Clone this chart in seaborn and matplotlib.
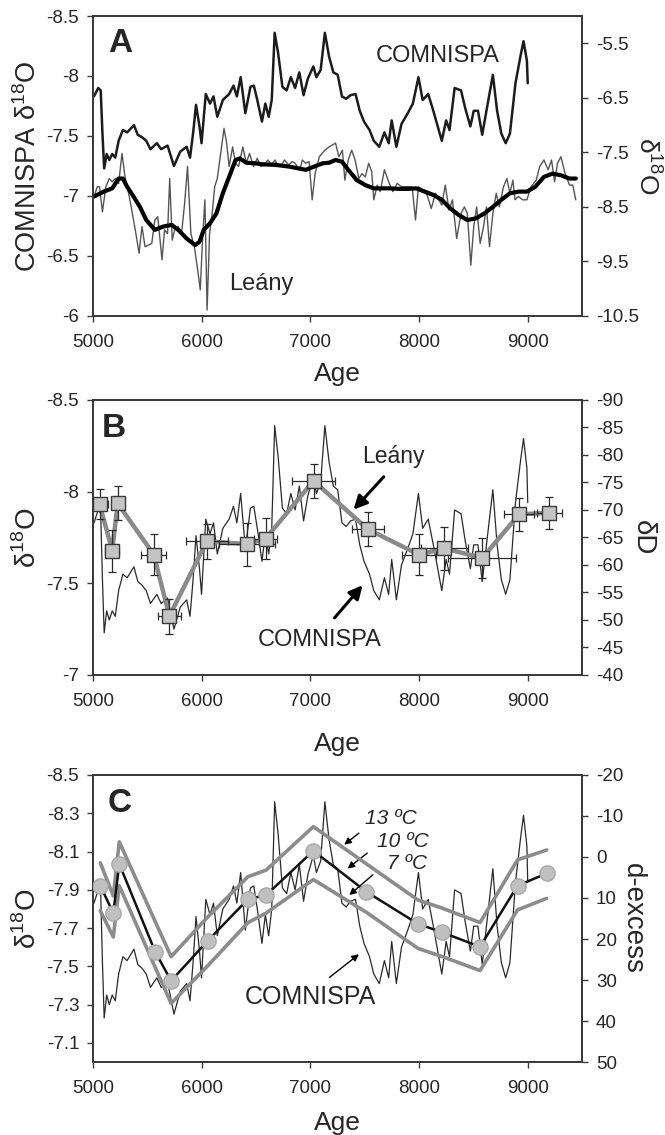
import numpy as np
import pandas as pd
import matplotlib
matplotlib.use("Agg")
import matplotlib.pyplot as plt
from matplotlib.ticker import FuncFormatter
import seaborn as sns

# COMNISPA d18O stack (left axis, all three panels)
comnispa_age = [5008, 5047, 5070, 5086, 5102, 5125, 5149, 5176, 5204, 5235, 5274, 5313, 5376, 5411, 5450,
                5489, 5528, 5587, 5626, 5685, 5744, 5802, 5861, 5892, 5920, 5947, 5979, 5998, 6037, 6076,
                6108, 6143, 6194, 6252, 6292, 6323, 6358, 6401, 6448, 6479, 6511, 6554, 6585, 6616, 6644,
                6671, 6703, 6742, 6781, 6820, 6859, 6898, 6937, 6977, 7027, 7055, 7094, 7133, 7172, 7211,
                7251, 7290, 7329, 7368, 7415, 7454, 7493, 7544, 7583, 7634, 7681, 7720, 7748, 7791, 7838,
                7896, 7943, 7994, 8033, 8084, 8131, 8209, 8249, 8280, 8327, 8386, 8425, 8472, 8503, 8542,
                8581, 8620, 8679, 8718, 8757, 8797, 8836, 8887, 8934, 8961, 8992, 9000]
comnispa_d18o = [-7.83, -7.90, -7.88, -7.52, -7.23, -7.35, -7.30, -7.35, -7.32, -7.46, -7.55, -7.53, -7.59, -7.51, -7.49,
                 -7.46, -7.39, -7.44, -7.39, -7.42, -7.25, -7.37, -7.41, -7.32, -7.52, -7.76, -7.58, -7.44, -7.85, -7.77,
                 -7.83, -7.66, -7.80, -7.85, -7.92, -7.83, -7.99, -7.69, -7.91, -7.92, -7.80, -7.62, -7.77, -7.66, -7.80,
                 -8.36, -8.19, -7.91, -7.88, -7.99, -7.90, -8.03, -7.84, -7.98, -8.08, -7.99, -8.05, -8.36, -8.16, -8.03,
                 -8.01, -7.83, -7.81, -7.84, -7.85, -7.71, -7.62, -7.55, -7.46, -7.41, -7.53, -7.44, -7.63, -7.41, -7.60,
                 -7.69, -7.77, -7.99, -7.80, -7.85, -7.71, -7.46, -7.63, -7.55, -7.90, -7.88, -7.73, -7.58, -7.71, -7.71,
                 -7.51, -7.71, -8.01, -7.71, -7.52, -7.44, -7.52, -7.94, -8.17, -8.29, -8.13, -7.94]

# Leany d18O, raw and smoothed (right axis, panel A)
leany_age = [5008, 5039, 5059, 5086, 5117, 5149, 5176, 5204, 5235, 5266, 5294, 5333, 5372, 5399, 5423,
             5450, 5478, 5509, 5540, 5568, 5595, 5634, 5658, 5685, 5705, 5728, 5751, 5783, 5814, 5842,
             5869, 5900, 5932, 5963, 5986, 6010, 6029, 6049, 6072, 6096, 6119, 6143, 6174, 6205, 6229,
             6252, 6284, 6311, 6339, 6378, 6409, 6440, 6476, 6511, 6542, 6573, 6609, 6644, 6675, 6703,
             6734, 6761, 6800, 6832, 6859, 6879, 6902, 6926, 6957, 6988, 7016, 7043, 7082, 7133, 7172,
             7231, 7262, 7294, 7317, 7348, 7380, 7411, 7446, 7474, 7505, 7536, 7564, 7583, 7615, 7642,
             7681, 7720, 7759, 7798, 7838, 7896, 7936, 7967, 7994, 8033, 8073, 8112, 8151, 8209, 8241,
             8276, 8307, 8346, 8386, 8417, 8444, 8476, 8503, 8530, 8562, 8593, 8620, 8648, 8679, 8710,
             8738, 8777, 8808, 8836, 8863, 8883, 8914, 8953, 8992, 9031, 9078, 9110, 9149, 9188, 9219,
             9247, 9274, 9305, 9344, 9384, 9415, 9442]
leany_d18o = [-8.31, -8.13, -8.13, -8.59, -8.13, -7.98, -8.04, -7.98, -8.07, -7.52, -7.95, -8.31, -8.74, -9.05, -9.35,
              -8.86, -9.23, -9.20, -9.17, -8.74, -8.68, -9.47, -8.92, -8.99, -7.98, -9.11, -8.92, -8.86, -8.99, -8.44,
              -7.76, -8.99, -9.23, -9.66, -10.02, -8.99, -8.37, -10.39, -8.99, -8.62, -8.13, -7.98, -7.52, -7.06, -7.33,
              -7.76, -7.40, -7.70, -7.76, -7.40, -7.70, -7.52, -7.76, -7.61, -7.76, -7.73, -7.64, -7.73, -7.64, -7.76,
              -7.73, -7.64, -7.73, -7.67, -7.70, -7.76, -7.82, -7.64, -7.70, -7.67, -8.37, -7.89, -7.58, -7.46, -7.40,
              -7.33, -7.58, -7.46, -8.01, -7.64, -7.46, -7.64, -7.98, -7.89, -7.95, -7.70, -7.85, -8.37, -8.10, -8.22,
              -7.82, -8.04, -8.22, -8.07, -8.13, -8.13, -8.13, -8.74, -8.13, -8.19, -8.28, -8.53, -8.25, -8.47, -8.10,
              -8.56, -8.37, -9.08, -8.62, -8.50, -8.62, -9.57, -8.86, -8.50, -9.17, -8.86, -8.50, -9.23, -8.62, -8.25,
              -8.50, -8.13, -7.98, -8.25, -8.01, -8.37, -8.31, -8.37, -8.37, -8.13, -8.01, -7.76, -7.64, -7.82, -7.64,
              -8.04, -7.70, -7.58, -7.89, -8.10, -8.10, -8.37]
leany_smooth_age = [5008, 5098, 5176, 5235, 5274, 5313, 5372, 5431, 5489, 5568, 5646, 5724, 5783, 5861, 5939,
                    5979, 6018, 6076, 6135, 6194, 6252, 6311, 6350, 6409, 6487, 6566, 6683, 6800, 6879, 6957,
                    7035, 7114, 7172, 7231, 7290, 7348, 7427, 7505, 7583, 7662, 7740, 7818, 7896, 7974, 8053,
                    8131, 8209, 8288, 8366, 8444, 8523, 8601, 8679, 8757, 8836, 8914, 8992, 9070, 9149, 9227,
                    9305, 9384, 9442]
leany_smooth_d18o = [-8.31, -8.22, -8.16, -7.98, -7.98, -8.13, -8.31, -8.50, -8.74, -8.92, -8.86, -8.83, -8.92, -9.08, -9.20,
                     -9.14, -8.92, -8.80, -8.62, -8.25, -7.95, -7.64, -7.61, -7.69, -7.70, -7.72, -7.73, -7.76, -7.79, -7.82,
                     -7.76, -7.70, -7.69, -7.64, -7.67, -7.82, -8.01, -8.10, -8.16, -8.16, -8.16, -8.17, -8.17, -8.16, -8.22,
                     -8.28, -8.37, -8.53, -8.65, -8.74, -8.71, -8.62, -8.50, -8.37, -8.25, -8.22, -8.22, -8.13, -7.95, -7.89,
                     -7.92, -7.98, -7.98]

# panel B: Leany dD with age / value errors
dd_age = [5059, 5176, 5226, 5558, 5702, 6046, 6416, 6588, 7029, 7528, 7997, 8231, 8582, 8921, 9199]
dd_val = [-71.1, -62.6, -71.2, -61.9, -50.7, -64.3, -63.8, -64.8, -75.3, -66.5, -61.9, -63.0, -61.3, -69.2, -69.5]
dd_age_err = [78, 66, 0, 113, 107, 195, 260, 105, 195, 146, 156, 215, 312, 137, 117]
dd_val_err = [2.8, 3.8, 3.1, 3.8, 3.2, 3.2, 3.9, 3.8, 3.1, 3.1, 3.8, 3.9, 3.6, 3.0, 2.9]

# panel C: modelled d-excess for 10, 13 and 7 C
dex_age = [5066, 5186, 5241, 5571, 5718, 6056, 6425, 6592, 7027, 7516, 7990, 8215, 8561, 8906, 9174]
dex_10 = [7.0, 13.7, 1.7, 23.1, 30.2, 20.4, 10.3, 9.3, -1.5, 8.5, 16.3, 18.4, 21.9, 7.0, 4.0]
dex_13 = [1.4, 9.5, -3.7, 15.7, 24.3, 14.6, 4.8, 3.2, -7.4, 1.7, 10.5, 12.5, 16.0, 0.7, -1.7]
dex_7 = [13.1, 19.5, 7.0, 26.9, 35.7, 26.5, 16.0, 13.7, 5.5, 13.5, 22.3, 24.3, 27.7, 12.9, 10.1]

sns.set_style("ticks")
plt.rcParams['font.family'] = ['Liberation Sans', 'DejaVu Sans']
plt.rcParams['mathtext.fontset'] = 'custom'
plt.rcParams['mathtext.rm'] = 'Liberation Sans'
plt.rcParams['axes.unicode_minus'] = False

fmt = FuncFormatter(lambda v, p: f"{v:g}")
D18O = "δ$^{\\mathregular{18}}$O"


def style_axes(ax, ax2):
    for a in (ax, ax2):
        for s in a.spines.values():
            s.set_linewidth(1.3)
            s.set_color("#3a3a3a")
        a.tick_params(axis="both", length=4, width=1, labelsize=13.5, color="#3a3a3a", pad=6)
        a.yaxis.set_major_formatter(fmt)
    ax.tick_params(axis="x", pad=9)
    ax.set_xlim(5000, 9500)
    ax.set_xticks([5000, 6000, 7000, 8000, 9000])
    ax.set_xlabel("Age", fontsize=19)


fig = plt.figure(figsize=(6.65, 11.35), dpi=100)
axA = fig.add_axes([0.140, 0.7216, 0.7353, 0.2643])
axB = fig.add_axes([0.140, 0.4053, 0.7353, 0.2423])
axC = fig.add_axes([0.140, 0.0643, 0.7353, 0.2529])
axA2 = axA.twinx()
axB2 = axB.twinx()
axC2 = axC.twinx()

# ---- panel A
sns.lineplot(x=comnispa_age, y=comnispa_d18o, ax=axA, color="#1c1c1c", linewidth=1.8,
             sort=False, estimator=None)
sns.lineplot(x=leany_age, y=leany_d18o, ax=axA2, color="#555555", linewidth=1.0,
             sort=False, estimator=None)
sns.lineplot(x=leany_smooth_age, y=leany_smooth_d18o, ax=axA2, color="black", linewidth=3.0,
             sort=False, estimator=None)
style_axes(axA, axA2)
axA.set_ylim(-6, -8.5)
axA.set_yticks(np.arange(-8.5, -5.99, 0.5))
axA2.set_ylim(-10.5, -5.0)
axA2.set_yticks(np.arange(-10.5, -5.4, 1.0))
axA.set_ylabel("COMNISPA " + D18O, fontsize=19.5)
axA2.set_ylabel(D18O, fontsize=19, rotation=270, va="bottom")
axA.text(0.055, 0.909, "A", transform=axA.transAxes, fontsize=24, fontweight="bold", ha="center", va="center")
axA.text(8170, -8.17, "COMNISPA", fontsize=17, ha="center", va="center")
axA.text(6546, -6.27, "Leány", fontsize=17, ha="center", va="center")

# ---- panel B
sns.lineplot(x=comnispa_age, y=comnispa_d18o, ax=axB, color="#2a2a2a", linewidth=0.9,
             sort=False, estimator=None)
axB2.errorbar(dd_age, dd_val, xerr=dd_age_err, yerr=dd_val_err, fmt="none", ecolor="#2a2a2a",
              elinewidth=0.9, capsize=3, capthick=0.9, zorder=3)
sns.lineplot(x=dd_age, y=dd_val, ax=axB2, color="#8a8a8a", linewidth=3.2, sort=False,
             estimator=None, zorder=2)
sns.scatterplot(x=dd_age, y=dd_val, ax=axB2, marker="s", s=110, color="#c4c4c4",
                edgecolor="#3a3a3a", linewidth=1.0, zorder=4)
style_axes(axB, axB2)
axB.set_ylim(-7, -8.5)
axB.set_yticks([-8.5, -8, -7.5, -7])
axB2.set_ylim(-40, -90)
axB2.set_yticks(np.arange(-90, -39, 5))
axB.set_ylabel(D18O, fontsize=20)
axB2.set_ylabel("δD", fontsize=20, rotation=270, va="bottom")
axB.text(0.043, 0.897, "B", transform=axB.transAxes, fontsize=24, fontweight="bold", ha="center", va="center")
axB2.text(7759, -79.7, "Leány", fontsize=16.5, ha="center", va="center")
axB2.annotate("", xy=(7380, -69.7), xytext=(7692, -76.4),
              arrowprops=dict(arrowstyle="-|>", color="black", lw=2.2, mutation_scale=20))
axB2.text(7088, -46.4, "COMNISPA", fontsize=17, ha="center", va="center")
axB2.annotate("", xy=(7497, -56.7), xytext=(7205, -50.0),
              arrowprops=dict(arrowstyle="-|>", color="black", lw=2.2, mutation_scale=20))

# ---- panel C
sns.lineplot(x=comnispa_age, y=comnispa_d18o, ax=axC, color="#2a2a2a", linewidth=0.9,
             sort=False, estimator=None)
sns.lineplot(x=dex_age, y=dex_13, ax=axC2, color="#8c8c8c", linewidth=2.6, sort=False, estimator=None)
sns.lineplot(x=dex_age, y=dex_7, ax=axC2, color="#8c8c8c", linewidth=2.6, sort=False, estimator=None)
sns.lineplot(x=dex_age, y=dex_10, ax=axC2, color="#111111", linewidth=1.8, sort=False, estimator=None)
sns.scatterplot(x=dex_age, y=dex_10, ax=axC2, marker="o", s=120, color="#c0c0c0",
                edgecolor="#a8a8a8", linewidth=1.0, zorder=4)
style_axes(axC, axC2)
axC.set_ylim(-7.0, -8.5)
axC.set_yticks(np.arange(-8.5, -7.05, 0.2))
axC2.set_ylim(50, -20)
axC2.set_yticks(np.arange(-20, 51, 10))
axC.set_ylabel(D18O, fontsize=20)
axC2.set_ylabel("d-excess", fontsize=20, rotation=270, va="bottom")
axC.text(0.055, 0.90, "C", transform=axC.transAxes, fontsize=24, fontweight="bold", ha="center", va="center")
for lab, tx, ty, tail, head in [("13 ºC", 7738, -8.27, (7466, -8.205), (7291, -8.127)),
                                ("10 ºC", 7854, -8.15, (7543, -8.101), (7322, -8.002)),
                                ("7 ºC", 7893, -8.04, (7594, -7.988), (7338, -7.863))]:
    axC.text(tx, ty, lab, fontsize=15, style="italic", ha="center", va="center")
    axC.annotate("", xy=head, xytext=tail,
                 arrowprops=dict(arrowstyle="-|>", color="black", lw=1.0, mutation_scale=10))
axC.text(7000, -7.338, "COMNISPA", fontsize=18, ha="center", va="center")
axC.annotate("", xy=(7466, -7.572), xytext=(7155, -7.433),
             arrowprops=dict(arrowstyle="-|>", color="black", lw=1.0, mutation_scale=10))

# label placement
axA.yaxis.set_label_coords(-0.105, 0.5)
axB.yaxis.set_label_coords(-0.105, 0.5)
axC.yaxis.set_label_coords(-0.105, 0.5)
axA2.yaxis.set_label_coords(1.108, 0.5)
axB2.yaxis.set_label_coords(1.098, 0.5)
axC2.yaxis.set_label_coords(1.077, 0.5)
axA.xaxis.set_label_coords(0.5, -0.153)
axB.xaxis.set_label_coords(0.5, -0.207)
axC.xaxis.set_label_coords(0.5, -0.170)

fig.savefig("out.png", dpi=100)
